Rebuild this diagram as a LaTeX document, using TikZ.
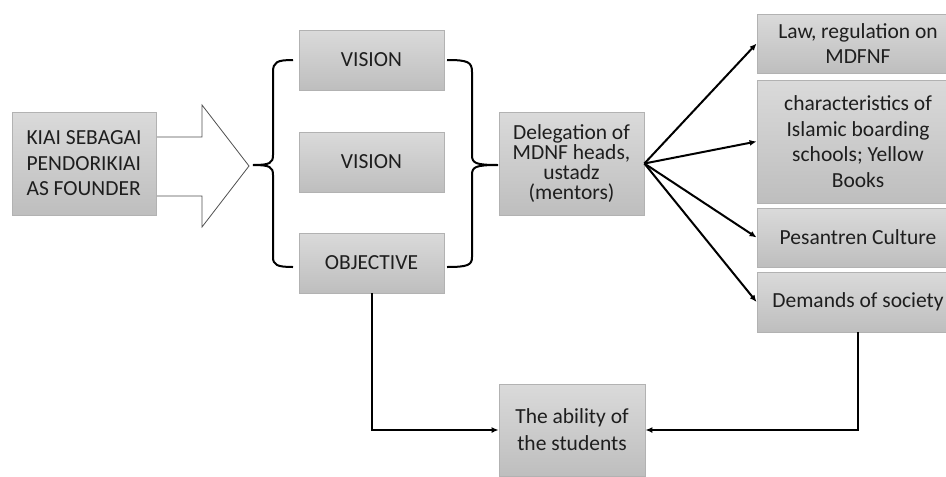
\documentclass[tikz,border=0pt]{standalone}
\usepackage{fontspec}
\setmainfont{Carlito}
\usetikzlibrary{arrows.meta}
\definecolor{boxtop}{RGB}{218,218,218}
\definecolor{boxbot}{RGB}{190,190,190}
\definecolor{boxline}{RGB}{178,178,178}
\definecolor{boxtext}{RGB}{30,30,30}
\definecolor{arrowline}{RGB}{80,80,80}

\begin{document}
\begin{tikzpicture}[x=1pt,y=-1pt,
   box/.style={draw=boxline, line width=0.8pt, top color=boxtop, bottom color=boxbot,
      text=boxtext, align=center, inner sep=0pt, font=\fontsize{21.5}{25.5}\selectfont},
   link/.style={draw=black, line width=2pt, -{Latex[length=7pt,width=6pt]}},
   bracket/.style={draw=black, line width=2pt}]

   \clip (0,0) rectangle (946,477);

   % big hollow arrow
   \draw[arrowline, fill=white, line width=0.8pt] (150,137) -- (202,137) -- (202,105) -- (249,166)
      -- (202,227) -- (202,196) -- (150,196);

   \node[box, minimum width=144pt, minimum height=103pt, align=left]
      (founder) at (84,163.5) {KIAI SEBAGAI\\PENDORIKIAI\\AS FOUNDER};

   \node[box, minimum width=145pt, minimum height=60pt] (vision) at (371.5,60) {VISION};
   \node[box, minimum width=145pt, minimum height=60pt] (visiontwo) at (371.5,162) {VISION};
   \node[box, minimum width=145pt, minimum height=60pt] (objective) at (371.5,263) {OBJECTIVE};

   \node[box, minimum width=145pt, minimum height=103pt, font=\fontsize{21.5}{20}\selectfont]
      (delegation) at (571.5,163.5) {Delegation of\\MDNF heads,\\ustadz\\(mentors)};

   \node[box, minimum width=202pt, minimum height=59pt] (law) at (858,43.5) {Law, regulation on\\MDFNF};
   \node[box, minimum width=202pt, minimum height=123pt] (character) at (858,141.5)
      {characteristics of\\Islamic boarding\\schools; Yellow\\Books};
   \node[box, minimum width=202pt, minimum height=59pt] (culture) at (858,237.5) {Pesantren Culture};
   \node[box, minimum width=202pt, minimum height=60pt] (society) at (858,302) {Demands of society};

   \node[box, minimum width=146pt, minimum height=92pt, font=\fontsize{21.5}{27}\selectfont]
      (ability) at (572,430) {The ability of\\the students};

   % braces
   \draw[bracket] (293,60) .. controls (277,60) and (273,62) .. (273,72) -- (273,155)
      .. controls (273,163) and (270,165) .. (253,165) .. controls (270,165) and (273,167) .. (273,175)
      -- (273,257) .. controls (273,265) and (277,267) .. (293,267);
   \draw[bracket] (447,60) .. controls (468,60) and (472,62) .. (472,72) -- (472,155)
      .. controls (472,163) and (475,165) .. (498,165) .. controls (475,165) and (472,167) .. (472,175)
      -- (472,257) .. controls (472,265) and (468,267) .. (447,267);

   \draw[link] (delegation.east) -- (law.west);
   \draw[link] (delegation.east) -- (character.west);
   \draw[link] (delegation.east) -- (culture.west);
   \draw[link] (delegation.east) -- (society.west);

   \draw[link] (objective.south) |- (ability.west);
   \draw[link] (society.south) |- (ability.east);
\end{tikzpicture}
\end{document}
